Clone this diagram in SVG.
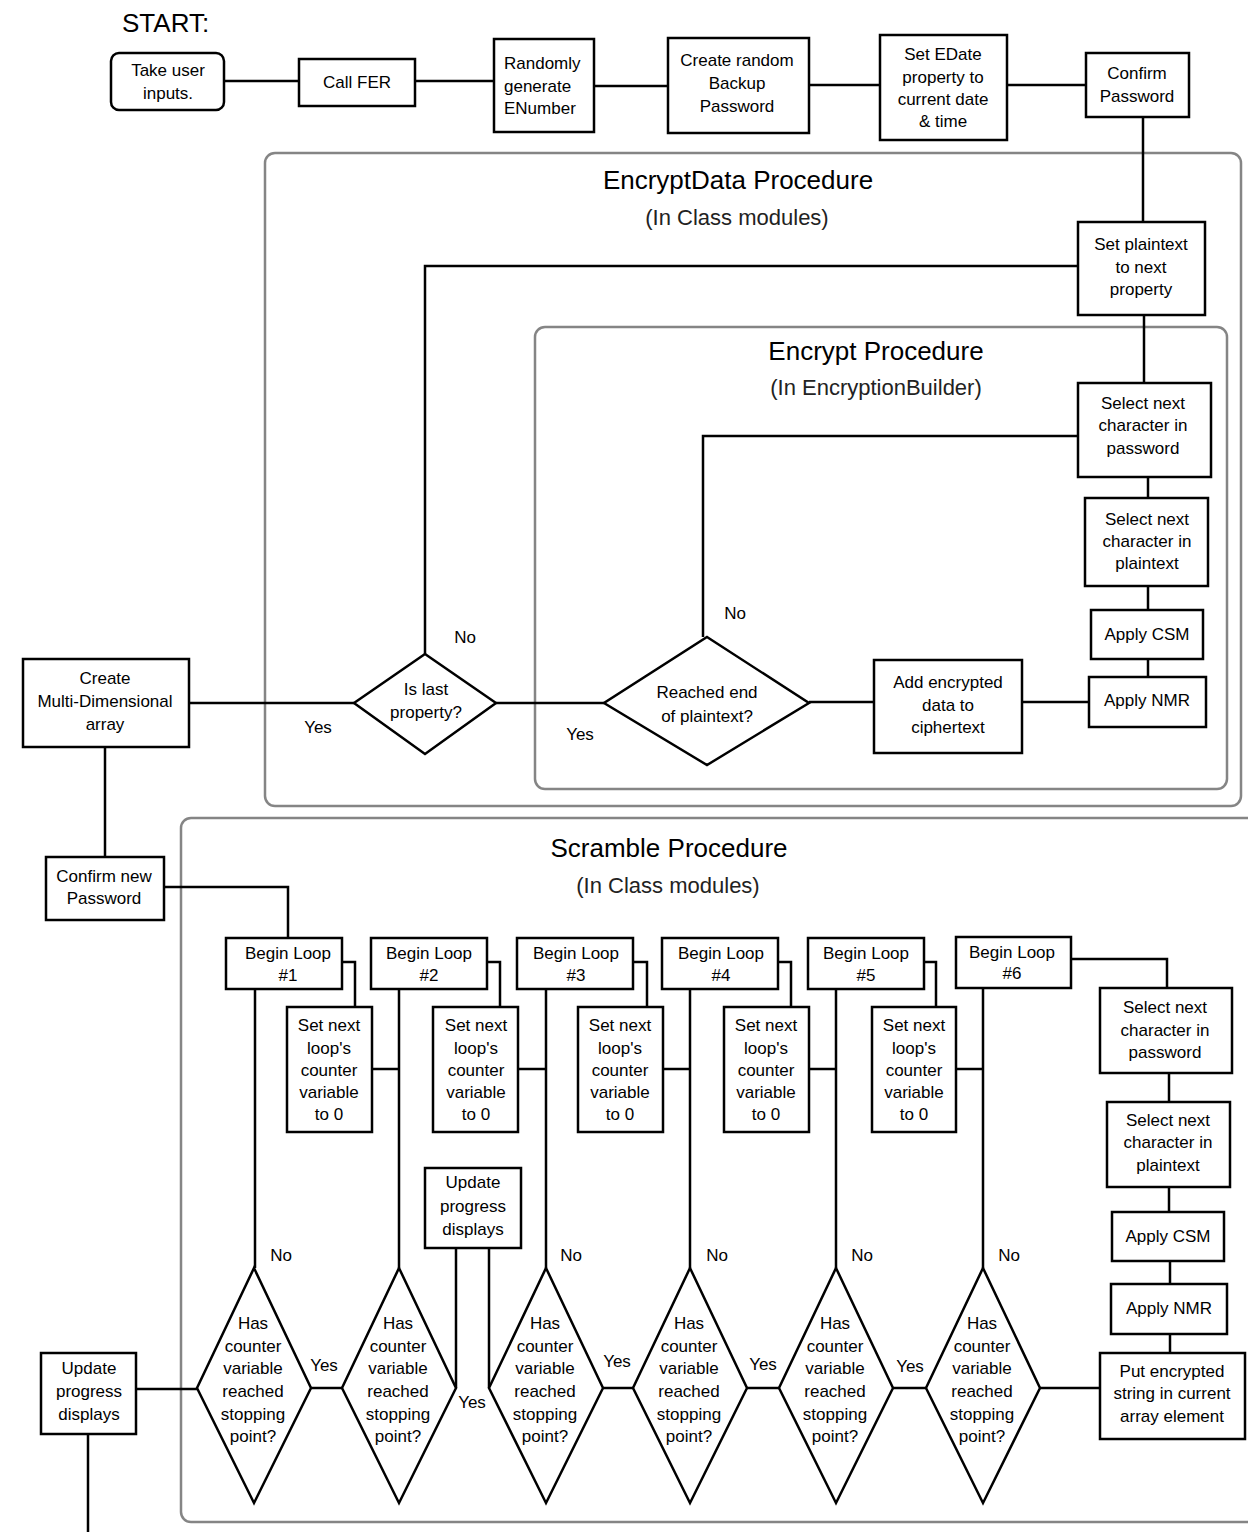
<svg xmlns="http://www.w3.org/2000/svg" width="1248" height="1532" viewBox="0 0 1248 1532">
<style>
.frame{fill:none;stroke:#858585;stroke-width:2.5}
.box{fill:#fff;stroke:#000;stroke-width:2.5}
.ln{fill:none;stroke:#000;stroke-width:2.5}
text{font-family:"Liberation Sans",Arial,sans-serif;fill:#000}
.t{font-size:17px;text-anchor:middle}
.tl{font-size:17px;text-anchor:start}
.title{font-size:26px;text-anchor:middle}
.sub{font-size:22px;text-anchor:middle;fill:#222}
</style>
<rect width="1248" height="1532" fill="#fff"/>
<g id="frames">
<rect class="frame" x="265" y="153" width="976" height="653" rx="10"/>
<rect class="frame" x="535" y="327" width="692" height="462" rx="10"/>
<rect class="frame" x="181" y="818" width="1090" height="704" rx="10"/>
</g>
<g id="titles">
<text x="122" y="32" style="font-size:26px">START:</text>
<text class="title" x="738" y="189">EncryptData Procedure</text>
<text class="sub" x="737" y="225">(In Class modules)</text>
<text class="title" x="876" y="360">Encrypt Procedure</text>
<text class="sub" x="876" y="395">(In EncryptionBuilder)</text>
<text class="title" x="669" y="857">Scramble Procedure</text>
<text class="sub" x="668" y="893">(In Class modules)</text>
</g>
<g id="connectors">
<path class="ln" d="M224,81 H299"/>
<path class="ln" d="M415,81 H494"/>
<path class="ln" d="M594,86 H668"/>
<path class="ln" d="M809,85 H880"/>
<path class="ln" d="M1007,85 H1086"/>
<path class="ln" d="M1143,117 V222"/>
<path class="ln" d="M1078,266 H425 V654"/>
<path class="ln" d="M1144,315 V383"/>
<path class="ln" d="M1078,436 H703 V637"/>
<path class="ln" d="M1148,477 V498"/>
<path class="ln" d="M1148,586 V610"/>
<path class="ln" d="M1148,659 V677"/>
<path class="ln" d="M1089,702 H1022"/>
<path class="ln" d="M874,702 H809"/>
<path class="ln" d="M604,703 H496"/>
<path class="ln" d="M354,703 H189"/>
<path class="ln" d="M105,747 V857"/>
<path class="ln" d="M164,887 H288 V938"/>
<path class="ln" d="M255,989 V1268"/>
<path class="ln" d="M399,989 V1268"/>
<path class="ln" d="M546,989 V1268"/>
<path class="ln" d="M690,989 V1268"/>
<path class="ln" d="M836,989 V1268"/>
<path class="ln" d="M983,988 V1268"/>
<path class="ln" d="M342,962 H355 V1007"/>
<path class="ln" d="M487,962 H500 V1007"/>
<path class="ln" d="M633,962 H647 V1007"/>
<path class="ln" d="M778,962 H791 V1007"/>
<path class="ln" d="M924,962 H936 V1007"/>
<path class="ln" d="M372,1069 H399"/>
<path class="ln" d="M518,1069 H546"/>
<path class="ln" d="M663,1069 H690"/>
<path class="ln" d="M809,1069 H836"/>
<path class="ln" d="M956,1069 H983"/>
<path class="ln" d="M1071,959 H1167 V988"/>
<path class="ln" d="M1169,1073 V1102"/>
<path class="ln" d="M1169,1187 V1212"/>
<path class="ln" d="M1170,1261 V1284"/>
<path class="ln" d="M1170,1334 V1353"/>
<path class="ln" d="M1040,1388 H1100"/>
<path class="ln" d="M311,1388 H342"/>
<path class="ln" d="M456,1388 V1248"/>
<path class="ln" d="M489,1388 V1248"/>
<path class="ln" d="M603,1388 H633"/>
<path class="ln" d="M747,1388 H779"/>
<path class="ln" d="M893,1388 H926"/>
<path class="ln" d="M136,1389 H197"/>
<path class="ln" d="M88,1434 V1532"/>
</g>
<g id="labels">
<text class="t" x="465" y="643">No</text>
<text class="t" x="735" y="619">No</text>
<text class="t" x="318" y="733">Yes</text>
<text class="t" x="580" y="740">Yes</text>
<text class="t" x="281" y="1261">No</text>
<text class="t" x="571" y="1261">No</text>
<text class="t" x="717" y="1261">No</text>
<text class="t" x="862" y="1261">No</text>
<text class="t" x="1009" y="1261">No</text>
<text class="t" x="324" y="1371">Yes</text>
<text class="t" x="472" y="1408">Yes</text>
<text class="t" x="617" y="1367">Yes</text>
<text class="t" x="763" y="1370">Yes</text>
<text class="t" x="910" y="1372">Yes</text>
</g>
<g id="n-take-input"><rect class="box" x="111" y="53" width="113" height="57" rx="8"/><text class="t" x="168" y="76">Take user</text><text class="t" x="168" y="99">inputs.</text></g>
<g id="n-call-fer"><rect class="box" x="299" y="59" width="116" height="47"/><text class="t" x="357" y="88">Call FER</text></g>
<g id="n-enumber"><rect class="box" x="494" y="39" width="100" height="93"/><text class="tl" x="504" y="69">Randomly</text><text class="tl" x="504" y="92">generate</text><text class="tl" x="504" y="114">ENumber</text></g>
<g id="n-backup"><rect class="box" x="668" y="38" width="141" height="95"/><text class="t" x="737" y="66">Create random</text><text class="t" x="737" y="89">Backup</text><text class="t" x="737" y="112">Password</text></g>
<g id="n-edate"><rect class="box" x="880" y="35" width="127" height="105"/><text class="t" x="943" y="60">Set EDate</text><text class="t" x="943" y="83">property to</text><text class="t" x="943" y="105">current date</text><text class="t" x="943" y="127">&amp; time</text></g>
<g id="n-confirm"><rect class="box" x="1086" y="53" width="103" height="64"/><text class="t" x="1137" y="79">Confirm</text><text class="t" x="1137" y="102">Password</text></g>
<g id="n-set-plaintext"><rect class="box" x="1078" y="222" width="127" height="93"/><text class="t" x="1141" y="250">Set plaintext</text><text class="t" x="1141" y="273">to next</text><text class="t" x="1141" y="295">property</text></g>
<g id="n-enc-sel-pw"><rect class="box" x="1078" y="383" width="133" height="94"/><text class="t" x="1143" y="409">Select next</text><text class="t" x="1143" y="431">character in</text><text class="t" x="1143" y="454">password</text></g>
<g id="n-enc-sel-pt"><rect class="box" x="1085" y="498" width="123" height="88"/><text class="t" x="1147" y="525">Select next</text><text class="t" x="1147" y="547">character in</text><text class="t" x="1147" y="569">plaintext</text></g>
<g id="n-enc-csm"><rect class="box" x="1091" y="610" width="112" height="49"/><text class="t" x="1147" y="640">Apply CSM</text></g>
<g id="n-enc-nmr"><rect class="box" x="1089" y="677" width="117" height="50"/><text class="t" x="1147" y="706">Apply NMR</text></g>
<g id="n-add-cipher"><rect class="box" x="874" y="660" width="148" height="93"/><text class="t" x="948" y="688">Add encrypted</text><text class="t" x="948" y="711">data to</text><text class="t" x="948" y="733">ciphertext</text></g>
<g id="n-reached-end"><polygon class="box" points="707,637 809,703 707,765 604,703"/><text class="t" x="707" y="698">Reached end</text><text class="t" x="707" y="722">of plaintext?</text></g>
<g id="n-is-last"><polygon class="box" points="425,654 496,703 425,754 354,703"/><text class="t" x="426" y="695">Is last</text><text class="t" x="426" y="718">property?</text></g>
<g id="n-multi-array"><rect class="box" x="23" y="659" width="166" height="88"/><text class="t" x="105" y="684">Create</text><text class="t" x="105" y="707">Multi-Dimensional</text><text class="t" x="105" y="730">array</text></g>
<g id="n-confirm-new"><rect class="box" x="46" y="857" width="118" height="63"/><text class="t" x="104" y="882">Confirm new</text><text class="t" x="104" y="904">Password</text></g>
<g id="n-loop1"><rect class="box" x="226" y="938" width="116" height="51"/><text class="t" x="288" y="959">Begin Loop</text><text class="t" x="288" y="981">#1</text></g>
<g id="n-loop2"><rect class="box" x="371" y="938" width="116" height="51"/><text class="t" x="429" y="959">Begin Loop</text><text class="t" x="429" y="981">#2</text></g>
<g id="n-loop3"><rect class="box" x="517" y="938" width="116" height="51"/><text class="t" x="576" y="959">Begin Loop</text><text class="t" x="576" y="981">#3</text></g>
<g id="n-loop4"><rect class="box" x="662" y="938" width="116" height="51"/><text class="t" x="721" y="959">Begin Loop</text><text class="t" x="721" y="981">#4</text></g>
<g id="n-loop5"><rect class="box" x="808" y="938" width="116" height="51"/><text class="t" x="866" y="959">Begin Loop</text><text class="t" x="866" y="981">#5</text></g>
<g id="n-loop6"><rect class="box" x="956" y="937" width="115" height="51"/><text class="t" x="1012" y="958">Begin Loop</text><text class="t" x="1012" y="979">#6</text></g>
<g id="n-setnext1"><rect class="box" x="287" y="1007" width="85" height="125"/><text class="t" x="329" y="1031">Set next</text><text class="t" x="329" y="1054">loop's</text><text class="t" x="329" y="1076">counter</text><text class="t" x="329" y="1098">variable</text><text class="t" x="329" y="1120">to 0</text></g>
<g id="n-setnext2"><rect class="box" x="433" y="1007" width="85" height="125"/><text class="t" x="476" y="1031">Set next</text><text class="t" x="476" y="1054">loop's</text><text class="t" x="476" y="1076">counter</text><text class="t" x="476" y="1098">variable</text><text class="t" x="476" y="1120">to 0</text></g>
<g id="n-setnext3"><rect class="box" x="578" y="1007" width="85" height="125"/><text class="t" x="620" y="1031">Set next</text><text class="t" x="620" y="1054">loop's</text><text class="t" x="620" y="1076">counter</text><text class="t" x="620" y="1098">variable</text><text class="t" x="620" y="1120">to 0</text></g>
<g id="n-setnext4"><rect class="box" x="724" y="1007" width="85" height="125"/><text class="t" x="766" y="1031">Set next</text><text class="t" x="766" y="1054">loop's</text><text class="t" x="766" y="1076">counter</text><text class="t" x="766" y="1098">variable</text><text class="t" x="766" y="1120">to 0</text></g>
<g id="n-setnext5"><rect class="box" x="872" y="1007" width="84" height="125"/><text class="t" x="914" y="1031">Set next</text><text class="t" x="914" y="1054">loop's</text><text class="t" x="914" y="1076">counter</text><text class="t" x="914" y="1098">variable</text><text class="t" x="914" y="1120">to 0</text></g>
<g id="n-update-mid"><rect class="box" x="425" y="1168" width="96" height="80"/><text class="t" x="473" y="1188">Update</text><text class="t" x="473" y="1212">progress</text><text class="t" x="473" y="1235">displays</text></g>
<g id="n-scr-sel-pw"><rect class="box" x="1100" y="988" width="132" height="85"/><text class="t" x="1165" y="1013">Select next</text><text class="t" x="1165" y="1036">character in</text><text class="t" x="1165" y="1058">password</text></g>
<g id="n-scr-sel-pt"><rect class="box" x="1107" y="1102" width="123" height="85"/><text class="t" x="1168" y="1126">Select next</text><text class="t" x="1168" y="1148">character in</text><text class="t" x="1168" y="1171">plaintext</text></g>
<g id="n-scr-csm"><rect class="box" x="1112" y="1212" width="112" height="49"/><text class="t" x="1168" y="1242">Apply CSM</text></g>
<g id="n-scr-nmr"><rect class="box" x="1111" y="1284" width="116" height="50"/><text class="t" x="1169" y="1314">Apply NMR</text></g>
<g id="n-put-array"><rect class="box" x="1100" y="1353" width="145" height="86"/><text class="t" x="1172" y="1377">Put encrypted</text><text class="t" x="1172" y="1399">string in current</text><text class="t" x="1172" y="1422">array element</text></g>
<g id="n-update-left"><rect class="box" x="41" y="1353" width="95" height="81"/><text class="t" x="89" y="1374">Update</text><text class="t" x="89" y="1397">progress</text><text class="t" x="89" y="1420">displays</text></g>
<g id="n-dec1"><polygon class="box" points="254,1268 311,1388 254,1503 197,1388"/><text class="t" x="253" y="1329">Has</text><text class="t" x="253" y="1352">counter</text><text class="t" x="253" y="1374">variable</text><text class="t" x="253" y="1397">reached</text><text class="t" x="253" y="1420">stopping</text><text class="t" x="253" y="1442">point?</text></g>
<g id="n-dec2"><polygon class="box" points="399,1268 456,1388 399,1503 342,1388"/><text class="t" x="398" y="1329">Has</text><text class="t" x="398" y="1352">counter</text><text class="t" x="398" y="1374">variable</text><text class="t" x="398" y="1397">reached</text><text class="t" x="398" y="1420">stopping</text><text class="t" x="398" y="1442">point?</text></g>
<g id="n-dec3"><polygon class="box" points="546,1268 603,1388 546,1503 489,1388"/><text class="t" x="545" y="1329">Has</text><text class="t" x="545" y="1352">counter</text><text class="t" x="545" y="1374">variable</text><text class="t" x="545" y="1397">reached</text><text class="t" x="545" y="1420">stopping</text><text class="t" x="545" y="1442">point?</text></g>
<g id="n-dec4"><polygon class="box" points="690,1268 747,1388 690,1503 633,1388"/><text class="t" x="689" y="1329">Has</text><text class="t" x="689" y="1352">counter</text><text class="t" x="689" y="1374">variable</text><text class="t" x="689" y="1397">reached</text><text class="t" x="689" y="1420">stopping</text><text class="t" x="689" y="1442">point?</text></g>
<g id="n-dec5"><polygon class="box" points="836,1268 893,1388 836,1503 779,1388"/><text class="t" x="835" y="1329">Has</text><text class="t" x="835" y="1352">counter</text><text class="t" x="835" y="1374">variable</text><text class="t" x="835" y="1397">reached</text><text class="t" x="835" y="1420">stopping</text><text class="t" x="835" y="1442">point?</text></g>
<g id="n-dec6"><polygon class="box" points="983,1268 1040,1388 983,1503 926,1388"/><text class="t" x="982" y="1329">Has</text><text class="t" x="982" y="1352">counter</text><text class="t" x="982" y="1374">variable</text><text class="t" x="982" y="1397">reached</text><text class="t" x="982" y="1420">stopping</text><text class="t" x="982" y="1442">point?</text></g>
</svg>
